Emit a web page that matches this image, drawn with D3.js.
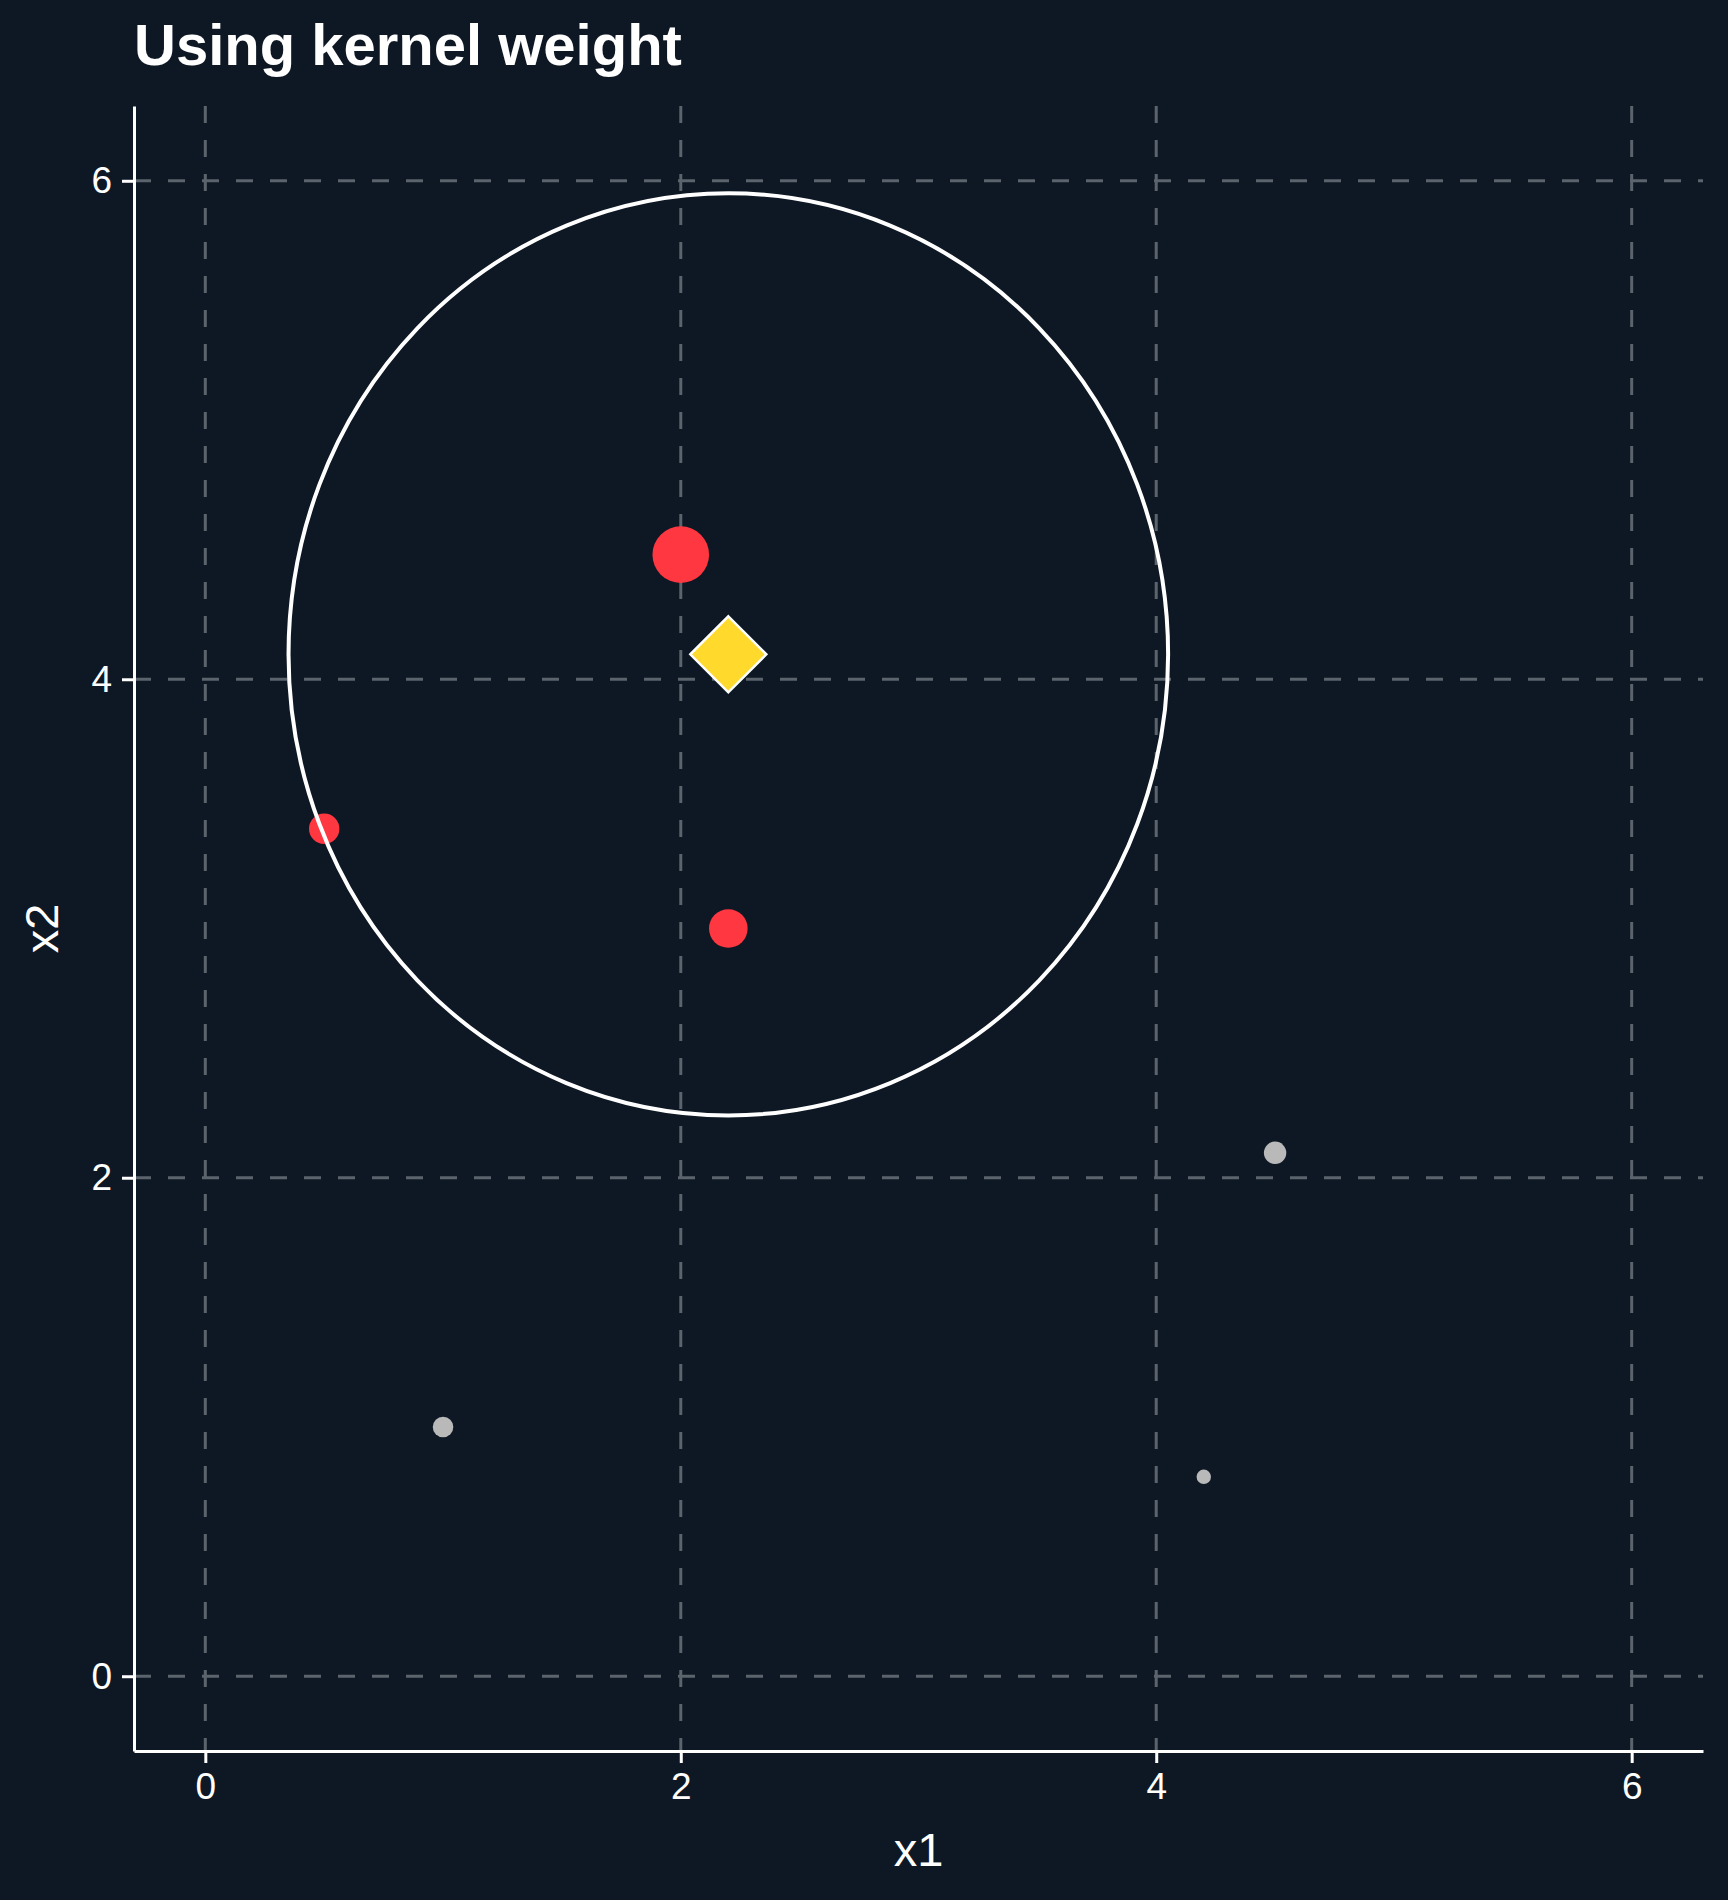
<!DOCTYPE html>
<html>
<head>
<meta charset="utf-8">
<script src="https://cdn.jsdelivr.net/npm/d3@7"></script>
<style>
  html, body { margin: 0; padding: 0; background: #0e1824; }
  svg { display: block; }
  text { font-family: "Liberation Sans", Arial, Helvetica, sans-serif; }
</style>
</head>
<body>
<script>
// ---- data ----
const title = "Using kernel weight";
const xTicks = [0, 2, 4, 6];
const yTicks = [0, 2, 4, 6];
// neighbours (inside k-NN radius) - red
const nearX1 = [2.0, 2.2, 0.5];
const nearX2 = [4.5, 3.0, 3.4];
const nearWeight = [1.0, 0.465, 0.288];
// other observations - grey
const farX1 = [4.5, 1.0, 4.2];
const farX2 = [2.1, 1.0, 0.8];
const farWeight = [0.157, 0.132, 0.065];
// query point
const queryX1 = [2.2];
const queryX2 = [4.1];
const radius = 1.85;

// ---- layout ----
const W = 1728, H = 1900;
const mLeft = 134, mRight = 1703, mTop = 106, mBottom = 1751;

const svg = d3.select("body").append("svg").attr("width", W).attr("height", H);
svg.append("rect").attr("width", W).attr("height", H).attr("fill", "#0e1824");

const x = d3.scaleLinear().domain([-0.3, 6.3]).range([mLeft, mRight]);
const y = d3.scaleLinear().domain([-0.3, 6.3]).range([mBottom, mTop]);
const r = d3.scaleSqrt().domain([0, 1]).range([0, 28.3]);

const gridColor = "#5b636c";
// grid
svg.append("g").selectAll("line").data(xTicks).join("line")
  .attr("x1", d => x(d)).attr("x2", d => x(d))
  .attr("y1", mTop).attr("y2", mBottom)
  .attr("stroke", gridColor).attr("stroke-width", 3).attr("stroke-dasharray", "17,17");
svg.append("g").selectAll("line").data(yTicks).join("line")
  .attr("y1", d => y(d)).attr("y2", d => y(d))
  .attr("x1", mLeft).attr("x2", mRight)
  .attr("stroke", gridColor).attr("stroke-width", 3).attr("stroke-dasharray", "17,17");

// axes
const fmt = d3.format("d");
const xAxis = d3.axisBottom(x).tickValues(xTicks).tickFormat(fmt).tickSize(12).tickPadding(10).tickSizeOuter(0);
const yAxis = d3.axisLeft(y).tickValues(yTicks).tickFormat(fmt).tickSize(12).tickPadding(10).tickSizeOuter(0);
const gx = svg.append("g").attr("transform", `translate(0,${mBottom})`).call(xAxis);
const gy = svg.append("g").attr("transform", `translate(${mLeft},0)`).call(yAxis);
[gx, gy].forEach(g => {
  g.select(".domain").attr("stroke", "#ffffff").attr("stroke-width", 3);
  g.selectAll(".tick line").attr("stroke", "#ffffff").attr("stroke-width", 3);
  g.selectAll(".tick text").attr("fill", "#ffffff").attr("font-size", 37)
    .attr("font-family", '"Liberation Sans", Arial, sans-serif');
});
gx.selectAll(".tick text").attr("dy", "0.71em");

// points
const far = farX1.map((d, i) => ({ x1: d, x2: farX2[i], w: farWeight[i] }));
const near = nearX1.map((d, i) => ({ x1: d, x2: nearX2[i], w: nearWeight[i] }));
svg.append("g").selectAll("circle").data(far).join("circle")
  .attr("cx", d => x(d.x1)).attr("cy", d => y(d.x2)).attr("r", d => r(d.w))
  .attr("fill", "#b9b9b9");
svg.append("g").selectAll("circle").data(near).join("circle")
  .attr("cx", d => x(d.x1)).attr("cy", d => y(d.x2)).attr("r", d => r(d.w))
  .attr("fill", "#ff3741");

// neighbourhood circle
svg.append("ellipse")
  .attr("cx", x(queryX1[0])).attr("cy", y(queryX2[0]))
  .attr("rx", x(queryX1[0] + radius) - x(queryX1[0]))
  .attr("ry", y(queryX2[0]) - y(queryX2[0] + radius))
  .attr("fill", "none").attr("stroke", "#ffffff").attr("stroke-width", 4);

// query diamond
const qs = 38;
svg.append("g").selectAll("path").data(queryX1.map((d, i) => ({ x1: d, x2: queryX2[i] }))).join("path")
  .attr("transform", d => `translate(${x(d.x1)},${y(d.x2)})`)
  .attr("d", `M0,${-qs}L${qs},0L0,${qs}L${-qs},0Z`)
  .attr("fill", "#ffd92b").attr("stroke", "#ffffff").attr("stroke-width", 2.5);

// titles
svg.append("text").attr("x", mLeft).attr("y", 65).text(title)
  .attr("fill", "#ffffff").attr("font-size", 58).attr("font-weight", "bold");
svg.append("text").attr("x", (mLeft + mRight) / 2).attr("y", 1866).attr("text-anchor", "middle")
  .text("x1").attr("fill", "#ffffff").attr("font-size", 47);
svg.append("text").attr("transform", `translate(58,${(mTop + mBottom) / 2}) rotate(-90)`)
  .attr("text-anchor", "middle").text("x2").attr("fill", "#ffffff").attr("font-size", 47);
</script>
</body>
</html>
